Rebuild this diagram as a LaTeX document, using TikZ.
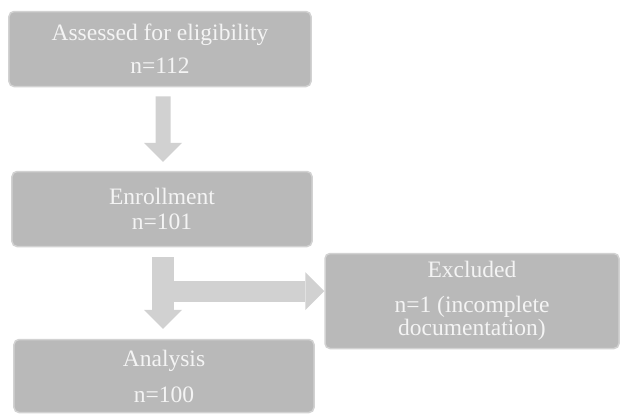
\documentclass[tikz,border=0pt]{standalone}
\usepackage{fontspec}
\setmainfont{Liberation Serif}
\usetikzlibrary{arrows.meta}
\definecolor{boxgray}{HTML}{B9B9B9}
\definecolor{boxedge}{HTML}{D2D2D2}
\definecolor{arrowgray}{HTML}{D1D1D1}
\definecolor{boxtext}{HTML}{F4F4F4}
\begin{document}
\begin{tikzpicture}[x=1bp,y=-1bp,
    box/.style={rectangle, rounded corners=5bp, fill=boxgray, draw=boxedge,
        line width=1.5bp, text=boxtext, align=center, inner sep=0pt,
        font=\fontsize{23.6}{25.1}\selectfont},
    fat/.style={draw=arrowgray, line width=#1,
        -{Triangle[length=19bp,width=38bp,line width=0pt]}}]
    \useasboundingbox (0,0) rectangle (622,415);
    % boxes
    \node[box, minimum width=302bp, minimum height=75bp] (elig) at (160,49)
        {Assessed for eligibility\\[8bp] n=112};
    \node[box, minimum width=300bp, minimum height=75bp] (enrol) at (162,209)
        {Enrollment\\ n=101};
    \node[box, minimum width=294bp, minimum height=95bp,
        font=\fontsize{23.6}{23}\selectfont] (excl) at (472,301)
        {Excluded\\[12bp] n=1 (incomplete\\ documentation)};
    \node[box, minimum width=300bp, minimum height=73bp] (anal) at (164,376)
        {Analysis\\[11bp] n=100};
    % arrows
    \draw[fat=15bp, shorten <=9bp, shorten >=9bp]
        ([xshift=3bp]elig.south) -- ([xshift=1bp]enrol.north);
    \coordinate (fork) at (163,291);
    \draw[fat=21bp] (fork) -- (fork -| excl.west);
    \draw[fat=22bp, shorten <=10bp, shorten >=10bp]
        ([xshift=1bp]enrol.south) -- ([xshift=-1bp]anal.north);
\end{tikzpicture}
\end{document}
